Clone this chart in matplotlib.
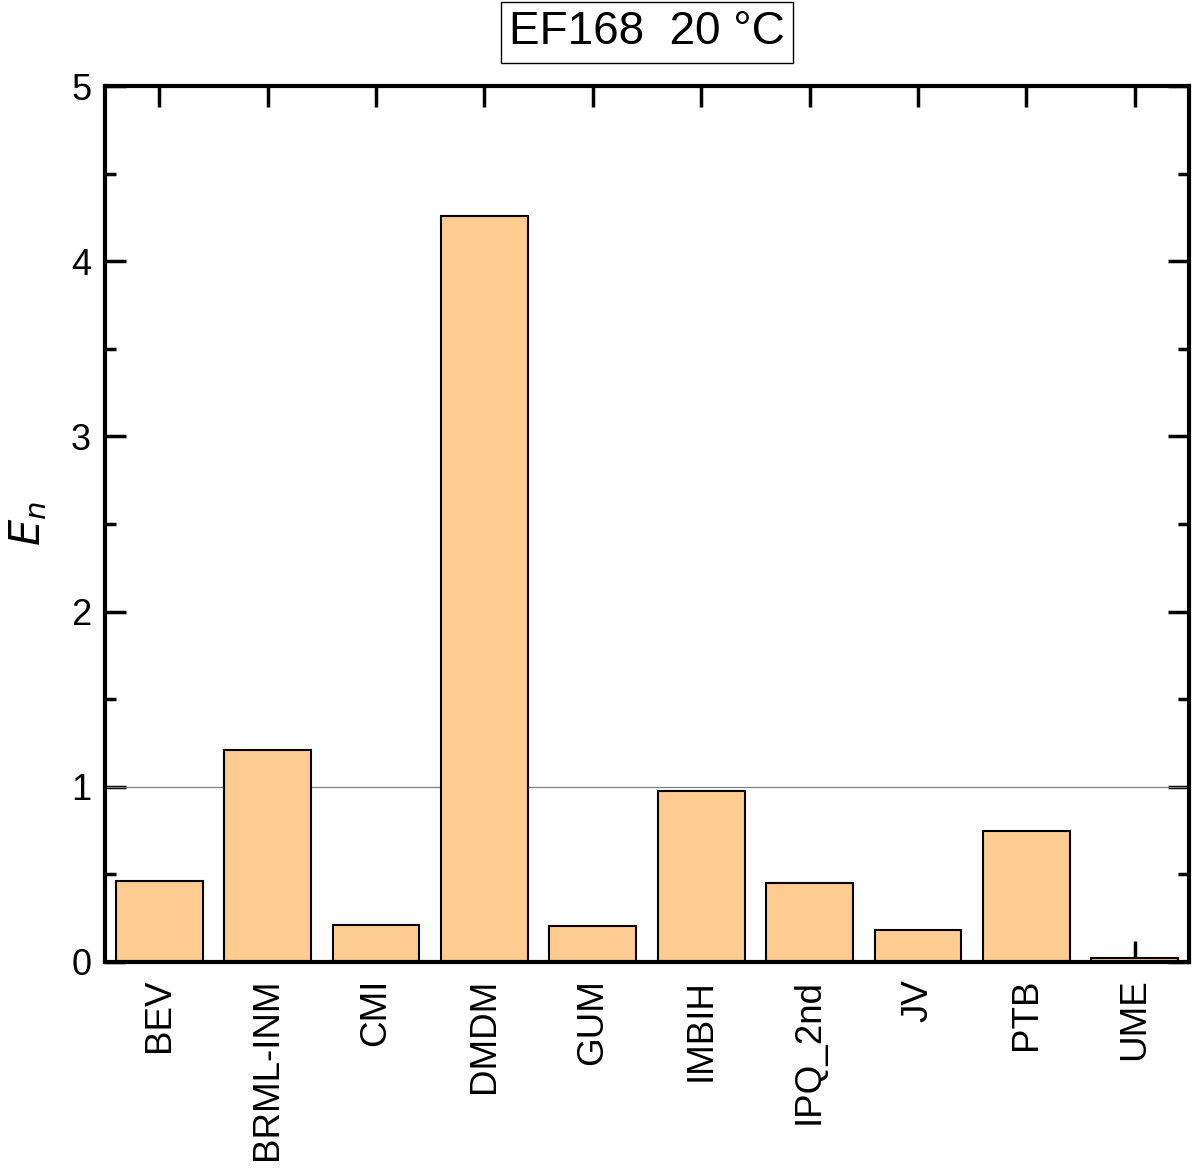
import matplotlib
matplotlib.use("Agg")
import matplotlib.pyplot as plt
from matplotlib.ticker import MultipleLocator

plt.rcParams['font.family'] = ['Liberation Sans', 'DejaVu Sans']

# -------------------- Data --------------------
labs = ["BEV", "BRML-INM", "CMI", "DMDM", "GUM", "IMBIH", "IPQ_2nd", "JV", "PTB", "UME"]
en_vals = [0.46, 1.21, 0.21, 4.26, 0.205, 0.975, 0.45, 0.185, 0.745, 0.02]

# -------------------- Plot --------------------
fig = plt.figure(figsize=(11.92, 11.69), dpi=100)
ax = fig.add_axes([0.0881, 0.1771, 0.9094, 0.7493])

x = range(len(labs))
ax.bar(x, en_vals, width=0.8, color="#FECC91", edgecolor="black", linewidth=1.5, zorder=2)
ax.axhline(1, color="#808080", linewidth=0.9, zorder=1)
ax.set_axisbelow(True)

ax.set_xlim(-0.5, len(labs) - 0.5)
ax.set_ylim(0, 5)
ax.set_xticks(list(x))
ax.set_xticklabels(labs, rotation=90, fontsize=26.5)
ax.yaxis.set_major_locator(MultipleLocator(1))
ax.yaxis.set_minor_locator(MultipleLocator(0.5))
ax.tick_params(axis='y', which='major', direction='in', length=15, width=2.5,
               labelsize=26, right=True, pad=10)
ax.tick_params(axis='y', which='minor', direction='in', length=8, width=2.5, right=True)
ax.tick_params(axis='x', which='major', direction='in', length=15, width=2.5,
               top=True, pad=12)

for sp in ax.spines.values():
    sp.set_linewidth(3)

ax.set_ylabel("$E_n$", fontsize=30, labelpad=16)
ax.set_title("EF168  20 °C", fontsize=33, pad=30,
             bbox=dict(facecolor="white", edgecolor="black", linewidth=1, pad=6))

fig.savefig("out.png", dpi=100)
plt.close(fig)
